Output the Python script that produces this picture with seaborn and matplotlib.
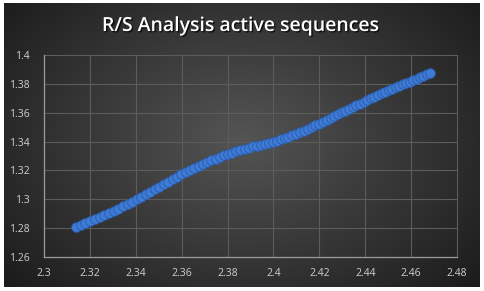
import numpy as np
import pandas as pd
import matplotlib
matplotlib.use("Agg")
import matplotlib.pyplot as plt
import matplotlib.patheffects as pe
import seaborn as sns

# ---- data ----
log_n = [2.31387, 2.31597, 2.31806, 2.32015, 2.32222, 2.32428, 2.32634, 2.32838, 2.33041, 2.33244,
         2.33445, 2.33646, 2.33846, 2.34044, 2.34242, 2.34439, 2.34635, 2.34830, 2.35025, 2.35218,
         2.35411, 2.35603, 2.35793, 2.35984, 2.36173, 2.36361, 2.36549, 2.36736, 2.36922, 2.37107,
         2.37291, 2.37475, 2.37658, 2.37840, 2.38021, 2.38202, 2.38382, 2.38561, 2.38739, 2.38917,
         2.39094, 2.39270, 2.39445, 2.39620, 2.39794, 2.39967, 2.40140, 2.40312, 2.40483, 2.40654,
         2.40824, 2.40993, 2.41162, 2.41330, 2.41497, 2.41664, 2.41830, 2.41996, 2.42160, 2.42325,
         2.42488, 2.42651, 2.42813, 2.42975, 2.43136, 2.43297, 2.43457, 2.43616, 2.43775, 2.43933,
         2.44091, 2.44248, 2.44404, 2.44560, 2.44716, 2.44871, 2.45025, 2.45179, 2.45332, 2.45484,
         2.45637, 2.45788, 2.45939, 2.46090, 2.46240, 2.46389, 2.46538, 2.46687, 2.46835]
log_rs = [1.2808, 1.2822, 1.2837, 1.2851, 1.2864, 1.2878, 1.2891, 1.2904, 1.2918, 1.2935,
          1.2951, 1.2967, 1.2983, 1.2999, 1.3017, 1.3035, 1.3052, 1.3070, 1.3087, 1.3105,
          1.3122, 1.3139, 1.3156, 1.3174, 1.3188, 1.3202, 1.3216, 1.3230, 1.3244, 1.3257,
          1.3269, 1.3281, 1.3293, 1.3305, 1.3316, 1.3324, 1.3333, 1.3341, 1.3350, 1.3358,
          1.3366, 1.3372, 1.3379, 1.3386, 1.3392, 1.3399, 1.3407, 1.3416, 1.3425, 1.3434,
          1.3443, 1.3452, 1.3464, 1.3476, 1.3488, 1.3500, 1.3513, 1.3525, 1.3538, 1.3551,
          1.3564, 1.3577, 1.3590, 1.3603, 1.3615, 1.3627, 1.3639, 1.3651, 1.3663, 1.3675,
          1.3687, 1.3699, 1.3710, 1.3722, 1.3734, 1.3745, 1.3757, 1.3767, 1.3777, 1.3786,
          1.3796, 1.3806, 1.3816, 1.3826, 1.3836, 1.3846, 1.3856, 1.3866, 1.3876]
x_ticks = [2.3, 2.32, 2.34, 2.36, 2.38, 2.4, 2.42, 2.44, 2.46, 2.48]
x_tick_labels = ["2.3", "2.32", "2.34", "2.36", "2.38", "2.4", "2.42", "2.44", "2.46", "2.48"]
y_ticks = [1.26, 1.28, 1.3, 1.32, 1.34, 1.36, 1.38, 1.4]
y_tick_labels = ["1.26", "1.28", "1.3", "1.32", "1.34", "1.36", "1.38", "1.4"]
title = "R/S Analysis active sequences"

df = pd.DataFrame({"x": log_n, "y": log_rs})

sns.set_style("dark")
plt.rcParams["font.family"] = ["Open Sans", "DejaVu Sans"]

W, H = 484, 291
fig = plt.figure(figsize=(W / 100, H / 100), dpi=100, facecolor="white")

# background panel with radial gradient
bg = fig.add_axes([4 / W, 4 / H, 476 / W, 284 / H])
bg.set_axis_off()
gy, gx = np.mgrid[0:1:300j, 0:1:500j]
r = np.sqrt(((gx - 0.5) / 0.62) ** 2 + ((gy - 0.52) / 0.75) ** 2)
val = np.clip(0.33 - 0.21 * r, 0.10, 0.33)
img = np.dstack([val, val, val])
bg.imshow(img, extent=[0, 1, 0, 1], aspect="auto", origin="lower")
bg.set_xlim(0, 1)
bg.set_ylim(0, 1)

ax = fig.add_axes([44 / W, 1 - 257 / H, 413 / W, 202 / H])
ax.patch.set_alpha(0)

sns.scatterplot(data=df, x="x", y="y", ax=ax, s=48, color="#3d7bd6",
                edgecolor="#2a5aa6", linewidth=0.6, zorder=3, legend=False)

ax.set_xlim(2.3, 2.48)
ax.set_ylim(1.26, 1.4)
ax.set_xticks(x_ticks)
ax.set_xticklabels(x_tick_labels)
ax.set_yticks(y_ticks)
ax.set_yticklabels(y_tick_labels)
ax.set_xlabel("")
ax.set_ylabel("")
ax.grid(True, color="#5c5c5c", linewidth=0.8)
for ln in ax.get_xgridlines() + ax.get_ygridlines():
    ln.set_clip_on(False)
ax.tick_params(axis="both", length=0, colors="#d0d0d0", labelsize=7.5)
ax.tick_params(axis="x", pad=8)
ax.tick_params(axis="y", pad=10)
for s in ["top", "right"]:
    ax.spines[s].set_visible(False)
for s in ["left", "bottom"]:
    ax.spines[s].set_visible(True)
    ax.spines[s].set_color("#9a9a9a")
    ax.spines[s].set_linewidth(0.9)

fig.text(0.5, 1 - 26 / H, title, ha="center", va="center", color="white",
         fontsize=14, fontweight="semibold",
         path_effects=[pe.withSimplePatchShadow(offset=(1, -1), shadow_rgbFace="black", alpha=0.7)])

fig.savefig("out.png", dpi=100, facecolor="white")
